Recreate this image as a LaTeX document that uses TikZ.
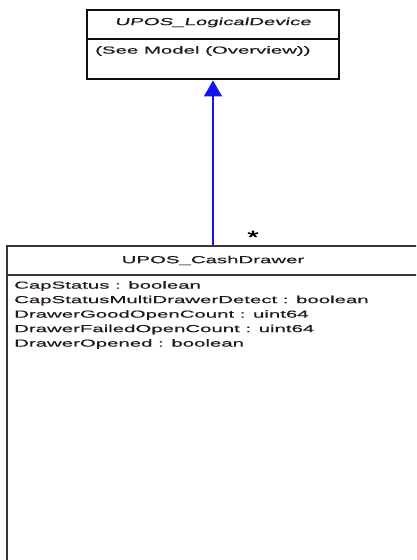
\documentclass[tikz,border=0pt]{standalone}
\usepackage{fontspec}
\setmainfont{Liberation Sans}
\newfontfamily\wf[FakeStretch=2.0,FakeBold=0.6]{Liberation Sans}
\newfontfamily\wfi[FakeStretch=2.0,FakeSlant=0.2,FakeBold=0.6]{Liberation Sans}
\newfontfamily\wfb[FakeStretch=1.6,FakeBold=1.5]{Liberation Sans}
\usetikzlibrary{arrows.meta}
\definecolor{txt}{RGB}{36,24,32}
\definecolor{bord}{RGB}{15,15,15}
\definecolor{bord2}{RGB}{55,55,55}
\definecolor{arrowblue}{RGB}{20,20,240}
\begin{document}
\begin{tikzpicture}[x=1pt,y=-1pt,
  umlbox/.style={draw=bord,line width=2.8pt,rectangle,inner sep=0pt},
  umlbox2/.style={draw=bord2,line width=2pt,rectangle,inner sep=0pt},
  label/.style={font=\wf\fontsize{10.2}{14}\selectfont,text=txt,inner sep=0pt},
  attr/.style={font=\wf\fontsize{10.2}{14}\selectfont,text=txt,inner sep=0pt,anchor=west},
  gen/.style={draw=arrowblue,line width=1.3pt,-{Triangle[width=18pt,length=16pt,fill=arrowblue]}}
]
\useasboundingbox (0,0) rectangle (416,560);
\clip (0,0) rectangle (416,560);
% Top class
\node[umlbox,minimum width=252pt,minimum height=69pt] (ld) at (213,44.5) {};
\draw[draw=bord,line width=2.4pt] (ld.west |- 0,39) coordinate (ldl) -- (ld.east |- 0,39) coordinate (ldr);
\node[label,font=\wfi\fontsize{10.2}{14}\selectfont] (ldname) at (213,22.5) {UPOS\_LogicalDevice};
\node[attr] (ldtxt) at (95,51) {(See Model (Overview))};
% Bottom class
\node[umlbox2,minimum width=412pt,minimum height=340pt] (cd) at (213,416) {};
\draw[draw=bord2,line width=2pt] (cd.west |- 0,275) coordinate (cdl) -- (cd.east |- 0,275) coordinate (cdr);
\node[label] (cdname) at (213,260.5) {UPOS\_CashDrawer};
\node[attr] (a1) at (14,286) {CapStatus : boolean};
\node[attr] (a2) at (14,300.5) {CapStatusMultiDrawerDetect : boolean};
\node[attr] (a3) at (14,315) {DrawerGoodOpenCount : uint64};
\node[attr] (a4) at (14,329.5) {DrawerFailedOpenCount : uint64};
\node[attr] (a5) at (14,344) {DrawerOpened : boolean};
% Generalization
\draw[gen] (cd.north) -- (ld.south);
\node[font=\wfb\fontsize{18}{18}\selectfont,text=black,inner sep=0pt] (mult) at (253,237) {*};
\end{tikzpicture}
\end{document}
